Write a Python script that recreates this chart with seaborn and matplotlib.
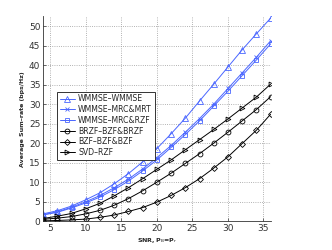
import numpy as np
import pandas as pd
import seaborn as sns
import matplotlib
matplotlib.use("Agg")
import matplotlib.pyplot as plt

snr = [4, 6, 8, 10, 12, 14, 16, 18, 20, 22, 24, 26, 28, 30, 32, 34, 36]

wmmse_wmmse = [1.9, 2.7, 3.9, 5.5, 7.3, 9.6, 12.2, 15.2, 18.6, 22.4, 26.4, 30.8, 35.1, 39.5, 43.9, 48.0, 52.0]
wmmse_mrc_mrt = [1.7, 2.4, 3.6, 5.0, 6.6, 8.6, 10.8, 13.4, 16.3, 19.4, 22.8, 26.3, 30.0, 34.0, 38.0, 42.0, 46.2]
wmmse_mrc_rzf = [1.6, 2.3, 3.4, 4.7, 6.2, 8.1, 10.3, 12.9, 15.7, 18.9, 22.2, 25.7, 29.5, 33.3, 37.3, 41.3, 45.4]
brzf_bzf_brzf = [0.5, 0.8, 1.2, 1.9, 2.8, 4.1, 5.8, 7.8, 10.0, 12.3, 14.8, 17.3, 20.0, 22.8, 25.7, 28.6, 31.9]
bzf_bzf_bzf = [0.1, 0.2, 0.35, 0.55, 1.0, 1.6, 2.5, 3.5, 4.9, 6.6, 8.6, 10.9, 13.6, 16.5, 19.9, 23.3, 27.4]
svd_rzf = [0.7, 1.3, 2.0, 3.2, 4.6, 6.5, 8.6, 10.9, 13.3, 15.7, 18.3, 20.9, 23.5, 26.2, 29.0, 31.8, 35.1]

names = ["WMMSE–WMMSE", "WMMSE–MRC&MRT", "WMMSE–MRC&RZF",
         "BRZF–BZF&BRZF", "BZF–BZF&BZF", "SVD–RZF"]
series = [wmmse_wmmse, wmmse_mrc_mrt, wmmse_mrc_rzf, brzf_bzf_brzf, bzf_bzf_bzf, svd_rzf]

blue = "#4A66FF"
colors = [blue, blue, blue, "black", "black", "black"]
markers = ["^", "x", "s", "o", "D", ">"]
msizes = [3.8, 3, 3, 3.5, 3, 3.5]

df = pd.DataFrame({
    "snr": snr * len(names),
    "rate": [v for s in series for v in s],
    "scheme": [n for n in names for _ in snr],
})

sns.set_style("white")
plt.rcParams["font.family"] = ["DejaVu Sans"]

fig = plt.figure(figsize=(3.32, 2.5), dpi=100)
ax = fig.add_axes([0.13, 0.115, 0.685, 0.82])

for name, c, m, ms in zip(names, colors, markers, msizes):
    sub = df[df["scheme"] == name]
    sns.lineplot(data=sub, x="snr", y="rate", ax=ax, color=c, marker=m,
                 markersize=ms, markerfacecolor="none", markeredgecolor=c,
                 markeredgewidth=0.6, linewidth=0.7, label=name)

ax.set_xlim(4, 36)
ax.set_ylim(0, 52.5)
ax.set_xticks([5, 10, 15, 20, 25, 30, 35])
ax.set_yticks(range(0, 51, 5))
ax.grid(True, linestyle=":", color="#999999", linewidth=0.6)
for s in ["top", "right"]:
    ax.spines[s].set_visible(False)
for s in ["left", "bottom"]:
    ax.spines[s].set_linewidth(0.6)
    ax.spines[s].set_color("#333333")
ax.tick_params(axis="both", labelsize=6.5, direction="in", length=2, width=0.5,
               pad=2, colors="#333333", left=True, bottom=True)
ax.set_xlabel("SNR, P$_{\\mathrm{B}}$=P$_{\\mathrm{r}}$", fontsize=4.5,
              fontweight="bold", labelpad=2)
ax.set_ylabel("Average Sum–rate (bps/Hz)", fontsize=4.5, fontweight="bold",
              labelpad=3)

leg = ax.legend(loc="upper left", bbox_to_anchor=(0.06, 0.632), fontsize=5.6,
                frameon=True, fancybox=False, framealpha=1, handlelength=2.0,
                handletextpad=0.4, borderpad=0.35, labelspacing=0.22,
                borderaxespad=0)
leg.get_frame().set_edgecolor("#333333")
leg.get_frame().set_linewidth(0.7)

fig.savefig("out.png", dpi=100)
